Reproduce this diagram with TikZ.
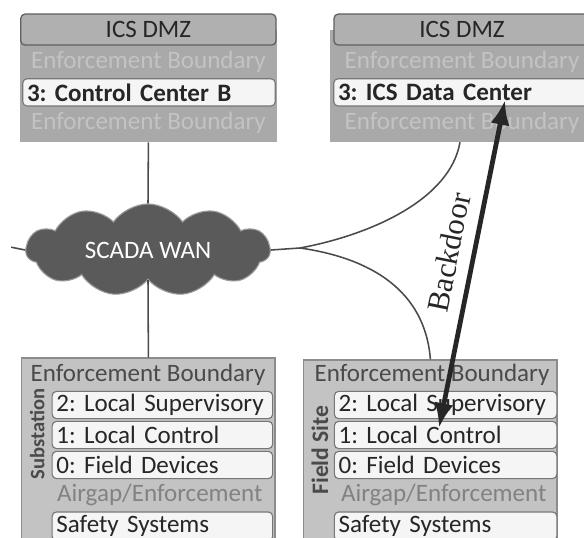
\documentclass[tikz,border=0pt]{standalone}
\usepackage{fontspec}
\setmainfont{Carlito}
\newfontfamily\bdfont{Liberation Serif}
\usepackage{xcolor}
\usepackage{tikz}
\usetikzlibrary{calc, positioning, arrows.meta, shapes.symbols}
\definecolor{dmzBody}{HTML}{A9A9A9}
\definecolor{dmzHead}{HTML}{B0B0B0}
\definecolor{dmzFaint}{HTML}{C3C3C3}
\definecolor{siteBody}{HTML}{C3C3C3}
\definecolor{siteEdge}{HTML}{8C8C8C}
\definecolor{boxEdge}{HTML}{777777}
\definecolor{inkDark}{HTML}{262626}
\definecolor{inkMid}{HTML}{4A4A4A}
\definecolor{inkSoft}{HTML}{828282}
\definecolor{wanFill}{HTML}{5A5A5A}
\definecolor{wanEdge}{HTML}{9A9A9A}
\tikzset{
    txt/.style={font=\fontsize{17.8}{20}\selectfont},
    zoneBody/.style={rectangle, inner sep=0pt},
    dmzBodyBox/.style={zoneBody, fill=dmzBody},
    siteBodyBox/.style={zoneBody, fill=siteBody, draw=siteEdge, line width=0.8pt},
    dmzHeader/.style={rectangle, rounded corners=3pt, fill=dmzHead, draw=boxEdge!80!black, line width=0.9pt, minimum height=0.775cm, txt, text=inkDark},
    layerBox/.style={rectangle, rounded corners=3pt, fill=white!96!black, draw=boxEdge, line width=0.8pt, minimum height=0.68cm, txt, text=inkDark, text width=#1, inner xsep=3pt, inner ysep=0pt, align=left},
    faintLabel/.style={txt, text=dmzFaint},
    sideLabel/.style={text=inkMid, rotate=90, inner sep=0pt},
    wanCloud/.style={cloud, cloud puffs=11, cloud puff arc=110, aspect=2.6, fill=wanFill, draw=wanEdge, line width=0.8pt, inner sep=0pt, minimum width=6.1cm, minimum height=2.3cm, text=white, txt},
    link/.style={draw=inkMid, line width=1.1pt},
    backdoor/.style={{Latex[length=0.62cm, width=0.48cm]}-{Latex[length=0.62cm, width=0.48cm]}, draw=inkDark, line width=3.4pt}
}

\begin{document}
\frenchspacing
\begin{tikzpicture}
    \clip (0,0) rectangle (14.6,13.45);
    \fill[white] (0,0) rectangle (14.6,13.45);

    % ICS DMZ, left
    \node[dmzBodyBox, minimum width=6.43cm, minimum height=2.8cm] (dmzL) at (3.71,11.3) {};
    \node[dmzHeader, minimum width=6.38cm] (hdrL) at (3.71,12.71) {ICS DMZ};
    \node[faintLabel] (ebL1) at (3.71,11.9) {Enforcement Boundary};
    \node[layerBox=6.1cm, font=\fontsize{17.8}{20}\selectfont\bfseries] (ccb) at (3.725,11.14) {3: Control Center B};
    \node[faintLabel] (ebL2) at (3.71,10.375) {Enforcement Boundary};

    % ICS DMZ, right
    \node[dmzBodyBox, minimum width=6.5cm, minimum height=2.8cm] (dmzR) at (11.5,11.3) {};
    \node[dmzHeader, minimum width=6.4cm] (hdrR) at (11.55,12.71) {ICS DMZ};
    \node[faintLabel] (ebR1) at (11.55,11.9) {Enforcement Boundary};
    \node[layerBox=6.2cm, font=\fontsize{17.8}{20}\selectfont\bfseries] (ids) at (11.55,11.14) {3: ICS Data Center};
    \node[faintLabel] (ebR2) at (11.55,10.375) {Enforcement Boundary};

    % WAN
    \node[wanCloud] (wan) at (3.7,7.2) {SCADA WAN};
    \coordinate (wanStub) at (0.28,7.27);
    \coordinate (split) at (7.5,7.25);

    % Substation
    \node[siteBodyBox, minimum width=6.33cm, minimum height=5.05cm] (subB) at (3.71,1.975) {};
    \node[txt, text=inkMid] (ebS) at (3.7,4.075) {Enforcement Boundary};
    \node[sideLabel, font=\fontsize{14.6}{16}\selectfont\bfseries] (subLbl) at (0.93,2.6) {Substation};
    \node[layerBox=5.3cm] (supS) at (4.06,3.325) {2: Local Supervisory};
    \node[layerBox=5.3cm] (ctlS) at (4.06,2.575) {1: Local Control};
    \node[layerBox=5.3cm] (devS) at (4.06,1.825) {0: Field Devices};
    \node[txt, text=inkSoft, anchor=west, inner sep=0pt] (agS) at (1.42,1.075) {Airgap/Enforcement};
    \node[layerBox=5.3cm, minimum height=0.72cm] (safS) at (4.06,0.29) {Safety Systems};

    % Field Site
    \node[siteBodyBox, minimum width=6.33cm, minimum height=5.0cm] (fsB) at (10.76,1.95) {};
    \node[txt, text=inkMid] (ebF) at (10.8,4.075) {Enforcement Boundary};
    \node[sideLabel, font=\fontsize{16.8}{18}\selectfont\bfseries] (fsLbl) at (8.0,2.2) {Field Site};
    \node[layerBox=5.35cm] (supF) at (11.14,3.325) {2: Local Supervisory};
    \node[layerBox=5.35cm] (ctlF) at (11.14,2.575) {1: Local Control};
    \node[layerBox=5.35cm] (devF) at (11.14,1.825) {0: Field Devices};
    \node[txt, text=inkSoft, anchor=west, inner sep=0pt] (agF) at (8.52,1.075) {Airgap/Enforcement};
    \node[layerBox=5.35cm, minimum height=0.72cm] (safF) at (11.14,0.29) {Safety Systems};

    % links
    \draw[link] (dmzL.south) -- (wan.north);
    \draw[link] (wan.south) -- (subB.north);
    \draw[link] (wanStub) -- (wan.west);
    \draw[link] (wan.east) -- (split);
    \draw[link] (split) .. controls (9.25,7.575) and (11.25,8.45) .. (dmzR.south);
    \draw[link] (split) .. controls (9.25,7.0) and (10.625,6.2) .. (fsB.north);

    % backdoor
    \coordinate (bdTop) at (12.625,10.95);
    \coordinate (bdBot) at (10.975,2.75);
    \draw[backdoor] (bdBot) -- (bdTop) node[pos=0.52, sloped, above=5pt, font=\bdfont\fontsize{22}{24}\selectfont, text=inkDark] (bdLbl) {Backdoor};
\end{tikzpicture}
\end{document}
